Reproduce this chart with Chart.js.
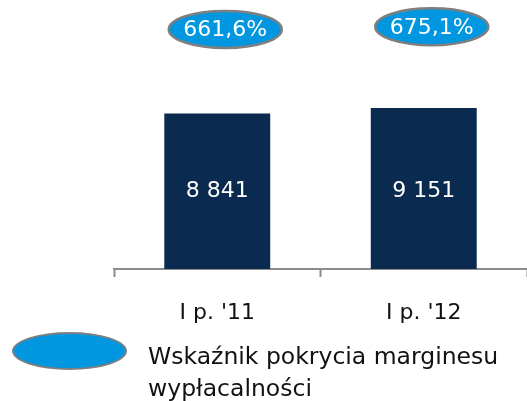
<!DOCTYPE html>
<html lang="pl">
<head>
<meta charset="utf-8">
<script src="https://cdn.jsdelivr.net/npm/chart.js@4/dist/chart.umd.min.js"></script>
<style>
  html, body { margin: 0; padding: 0; background: #fff; overflow: hidden; }
  #wrap { position: relative; width: 527px; height: 401px; overflow: hidden; }
  #chart { position: absolute; left: 0; top: 0; }
  #legend { position: absolute; left: 12px; top: 332px; width: 515px; height: 69px;
            font-family: 'DejaVu Sans', Verdana, sans-serif; font-size: 23.5px; color: #111; }
  #legend .mark { position: absolute; left: 0; top: 0; width: 115px; height: 38px;
                  box-sizing: border-box; border: 2.5px solid #7f7f7f; border-radius: 50%;
                  background: #0097E0; }
  #legend .txt { position: absolute; left: 136px; top: 8px; line-height: 32px; white-space: nowrap; }
</style>
</head>
<body>
<div id="wrap">
  <canvas id="chart" width="527" height="401"></canvas>
  <div id="legend"><div class="mark"></div><div class="txt">Wskaźnik pokrycia marginesu<br>wypłacalności</div></div>
</div>
<script>
// Półrocza i wartości
const categories = ["I p. '11", "I p. '12"];
const marginValues = [8841, 9151];        // słupki
const coverageRatio = [661.6, 675.1];     // wskaźnik pokrycia, %
const seriesName = 'Wskaźnik pokrycia marginesu wypłacalności';

const FONT = "'DejaVu Sans', Verdana, sans-serif";
const BAR_COLOR = '#0A2A4F';
const OVAL_FILL = '#0097E0';
const OVAL_EDGE = '#7f7f7f';

const fmtInt = v => String(v).replace(/\B(?=(\d{3})+(?!\d))/g, ' ');
const fmtPct = v => v.toFixed(1).replace('.', ',') + '%';

// Etykiety wartości: liczba na słupku, owal z procentem nad słupkiem
const valueLabels = {
  id: 'valueLabels',
  afterDatasetsDraw(chart) {
    const ctx = chart.ctx;
    ctx.save();
    ctx.textAlign = 'center';
    ctx.textBaseline = 'middle';
    ctx.font = '22px ' + FONT;

    // wszystkie liczby na wspólnej wysokości, w połowie niższego słupka
    const yScale = chart.scales.y;
    const labelY = yScale.getPixelForValue(Math.min(...marginValues) / 2);
    chart.getDatasetMeta(0).data.forEach((bar, i) => {
      ctx.fillStyle = '#ffffff';
      ctx.fillText(fmtInt(marginValues[i]), bar.x, labelY);
    });

    chart.getDatasetMeta(1).data.forEach((pt, i) => {
      const cx = pt.x + 8, cy = pt.y;
      ctx.beginPath();
      ctx.ellipse(cx, cy, 56.5, 18.5, 0, 0, Math.PI * 2);
      ctx.fillStyle = OVAL_FILL;
      ctx.fill();
      ctx.lineWidth = 2.5;
      ctx.strokeStyle = OVAL_EDGE;
      ctx.stroke();
      ctx.fillStyle = '#ffffff';
      ctx.fillText(fmtPct(coverageRatio[i]), cx, cy + 1);
    });
    ctx.restore();
  }
};

new Chart(document.getElementById('chart'), {
  data: {
    labels: categories,
    datasets: [
      {
        type: 'bar',
        label: 'Margines',
        data: marginValues,
        backgroundColor: BAR_COLOR,
        borderWidth: 0,
        categoryPercentage: 1,
        barPercentage: 0.513,
        yAxisID: 'y',
        order: 2
      },
      {
        type: 'line',
        label: seriesName,
        data: coverageRatio,
        showLine: false,
        pointRadius: 0,
        pointHoverRadius: 0,
        yAxisID: 'y2',
        order: 1
      }
    ]
  },
  options: {
    responsive: false,
    animation: false,
    events: [],
    layout: { padding: { left: 114, right: 0, top: 5, bottom: 0 } },
    plugins: { legend: { display: false }, tooltip: { enabled: false } },
    scales: {
      x: {
        offset: true,
        grid: {
          offset: true,
          drawOnChartArea: false,
          drawTicks: true,
          tickLength: 8,
          tickWidth: 2,
          tickColor: '#8c8c8c'
        },
        border: { display: true, color: '#8c8c8c', width: 2 },
        ticks: { color: '#111', font: { family: FONT, size: 22 }, padding: 23, maxRotation: 0 },
        afterFit(scale) { scale.height = 132; }
      },
      y: { display: false, min: 0, max: 15000 },
      y2: { display: false, min: -600, max: 790 }
    }
  },
  plugins: [valueLabels]
});
</script>
</body>
</html>
